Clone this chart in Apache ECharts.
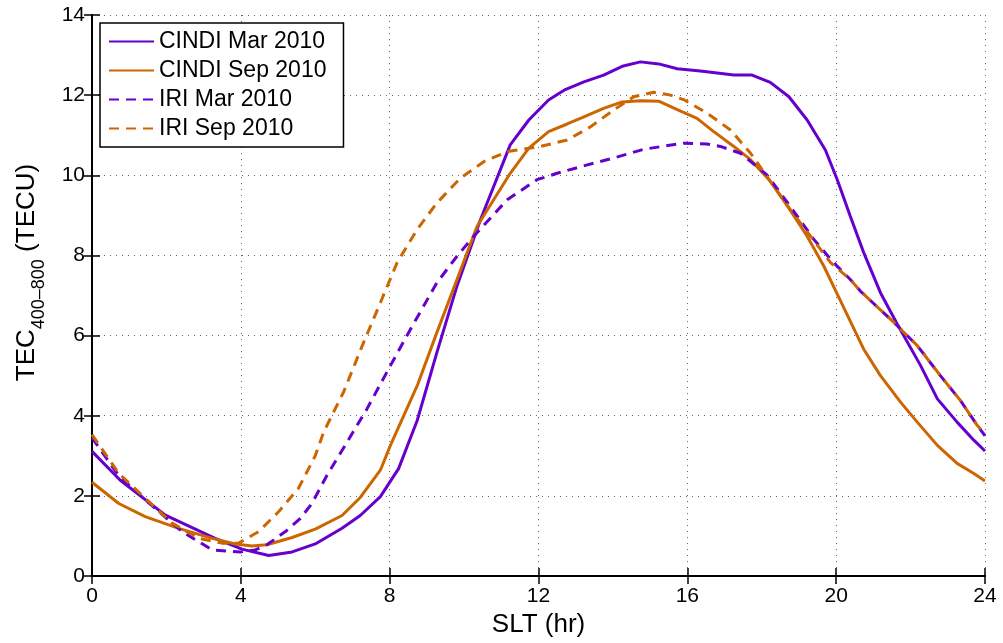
<!DOCTYPE html>
<html>
<head>
<meta charset="utf-8">
<script src="https://cdn.jsdelivr.net/npm/echarts@6/dist/echarts.min.js"></script>
<style>html,body{margin:0;padding:0;background:#fff}#c{width:1003px;height:643px}</style>
</head>
<body>
<div id="c"></div>
<script>
// x = SLT (hr), y = TEC (TECU)
const cindiMarX = [0,0.76,1.97,3.31,4.03,4.75,5.38,6.0,6.72,7.21,7.75,8.24,8.74,9.27,9.81,10.44,11.24,11.74,12.27,12.72,13.22,13.75,14.25,14.74,15.23,15.73,16.35,17.25,17.74,18.23,18.73,19.22,19.71,20.03,20.38,20.74,21.19,21.64,22.27,22.72,23.25,23.7,24];
const cindiMarY = [3.11,2.39,1.52,0.94,0.67,0.51,0.60,0.80,1.19,1.51,1.98,2.68,3.88,5.58,7.24,8.89,10.76,11.38,11.88,12.14,12.33,12.5,12.72,12.83,12.78,12.66,12.6,12.5,12.5,12.32,11.96,11.38,10.63,9.89,8.98,8.07,7.07,6.29,5.25,4.42,3.84,3.39,3.12];

const cindiSepX = [0,0.72,1.43,2.33,3.23,3.85,4.3,4.7,5.38,6.0,6.72,7.21,7.75,8.02,8.74,9.27,9.81,10.35,11.24,11.74,12.27,12.77,13.22,13.75,14.25,14.74,15.23,15.73,16.26,16.71,17.25,17.7,18.23,18.73,19.22,19.67,20.12,20.74,21.19,21.73,22.18,22.72,23.25,23.7,24];
const cindiSepY = [2.34,1.81,1.48,1.19,0.94,0.80,0.75,0.78,0.96,1.17,1.51,1.96,2.64,3.26,4.75,6.08,7.40,8.73,10.05,10.68,11.09,11.28,11.46,11.67,11.83,11.86,11.85,11.64,11.42,11.09,10.72,10.39,9.85,9.18,8.48,7.73,6.86,5.66,5.0,4.34,3.84,3.26,2.81,2.56,2.37];

const iriMarX = [0,0.72,1.43,2.42,3.23,3.99,4.39,4.7,5.2,5.6,5.91,6.32,6.86,7.39,8.02,8.56,9.27,9.81,10.26,11.16,11.96,12.5,13.31,14.02,14.83,15.9,16.53,16.89,17.43,18.14,18.77,19.4,19.89,20.38,20.65,21.55,22.18,22.8,23.34,23.79,24];
const iriMarY = [3.45,2.5,1.9,1.11,0.65,0.60,0.65,0.78,1.11,1.44,1.81,2.52,3.35,4.17,5.25,6.16,7.32,7.98,8.48,9.39,9.89,10.05,10.26,10.43,10.65,10.8,10.78,10.72,10.55,10.01,9.22,8.4,7.86,7.4,7.11,6.33,5.75,5.0,4.38,3.76,3.5];

const iriSepX = [0,0.72,1.43,2.15,2.87,3.49,3.94,4.48,5.02,5.55,6.0,6.23,6.76,7.3,7.75,8.2,8.74,9.27,9.9,10.53,11.16,12.05,12.77,13.4,14.02,14.56,15.1,15.55,15.9,16.53,17.16,17.7,18.14,18.77,19.31,19.85,20.38,20.65,21.55,22.18,22.8,23.34,23.79,24];
const iriSepY = [3.53,2.56,1.94,1.32,0.94,0.82,0.82,1.11,1.61,2.19,3.0,3.6,4.59,5.83,6.82,7.82,8.65,9.31,9.93,10.34,10.59,10.72,10.88,11.21,11.63,11.96,12.07,12.0,11.89,11.55,11.13,10.55,9.97,9.14,8.48,7.82,7.4,7.11,6.33,5.75,5.0,4.38,3.76,3.55];

const seriesNames = ['CINDI Mar 2010','CINDI Sep 2010','IRI Mar 2010','IRI Sep 2010'];
const xTicks = [0,4,8,12,16,20,24];
const yTicks = [0,2,4,6,8,10,12,14];

const PURPLE = '#6600cc', ORANGE = '#cc6600';
const FONT = 'Liberation Sans, Arial, Helvetica, sans-serif';
const zip = (xs, ys) => xs.map((x, i) => [x, ys[i]]);

const mk = (name, xs, ys, color, type) => ({
  name, type: 'line', data: zip(xs, ys), symbol: 'none', smooth: false,
  lineStyle: { color, width: 3, type: type === 'dashed' ? [10, 7] : 'solid' },
  itemStyle: { color }, z: 3
});

const chart = echarts.init(document.getElementById('c'), null, { renderer: 'canvas' });
const axisCommon = {
  axisLine: { show: true, lineStyle: { color: '#000', width: 2 } },
  axisTick: { show: true, inside: true, length: 8, lineStyle: { color: '#000', width: 1.5 } }
};
chart.setOption({
  animation: false,
  backgroundColor: '#fff',
  textStyle: { fontFamily: FONT },
  grid: { left: 92, right: 18, top: 15, bottom: 65, containLabel: false },
  legend: {
    data: seriesNames,
    orient: 'vertical', left: 100, top: 23,
    backgroundColor: '#fff', borderColor: '#000', borderWidth: 1.5,
    padding: [7, 17, 7, 8], itemGap: 6, itemWidth: 45, itemHeight: 2,
    itemStyle: { opacity: 0, borderWidth: 0 },
    textStyle: { fontFamily: FONT, fontSize: 23, color: '#000', lineHeight: 23 }
  },
  xAxis: [{
    type: 'value', min: 0, max: 24, interval: 4,
    name: 'SLT (hr)', nameLocation: 'middle', nameGap: 36,
    nameTextStyle: { fontFamily: FONT, fontSize: 26, color: '#000' },
    ...axisCommon,
    axisLabel: { fontFamily: FONT, fontSize: 21, color: '#000', margin: 10,
      formatter: v => xTicks.includes(v) ? String(v) : '' },
    splitLine: { show: true, lineStyle: { color: '#666', width: 1, type: [1, 5] } }
  }, {
    type: 'value', min: 0, max: 24, interval: 4, position: 'top',
    ...axisCommon, axisLabel: { show: false }, splitLine: { show: false }
  }],
  yAxis: [{
    type: 'value', min: 0, max: 14, interval: 2,
    name: '{a|TEC}{b|400–800}{a| (TECU)}', nameLocation: 'middle', nameGap: 52,
    nameTextStyle: { color: '#000', padding: [0, 0, 0, 46], rich: {
      a: { fontFamily: FONT, fontSize: 26, color: '#000', lineHeight: 30, verticalAlign: 'bottom' },
      b: { fontFamily: FONT, fontSize: 18, color: '#000', lineHeight: 30, verticalAlign: 'bottom', padding: [0, 0, -8, 0] }
    } },
    ...axisCommon,
    axisLabel: { fontFamily: FONT, fontSize: 21, color: '#000', margin: 7,
      formatter: v => yTicks.includes(v) ? String(v) : '' },
    splitLine: { show: true, lineStyle: { color: '#666', width: 1, type: [1, 5] } }
  }, {
    type: 'value', min: 0, max: 14, interval: 2, position: 'right',
    ...axisCommon, axisLabel: { show: false }, splitLine: { show: false }
  }],
  series: [
    mk(seriesNames[0], cindiMarX, cindiMarY, PURPLE, 'solid'),
    mk(seriesNames[1], cindiSepX, cindiSepY, ORANGE, 'solid'),
    mk(seriesNames[2], iriMarX, iriMarY, PURPLE, 'dashed'),
    mk(seriesNames[3], iriSepX, iriSepY, ORANGE, 'dashed')
  ]
});
</script>
</body>
</html>
